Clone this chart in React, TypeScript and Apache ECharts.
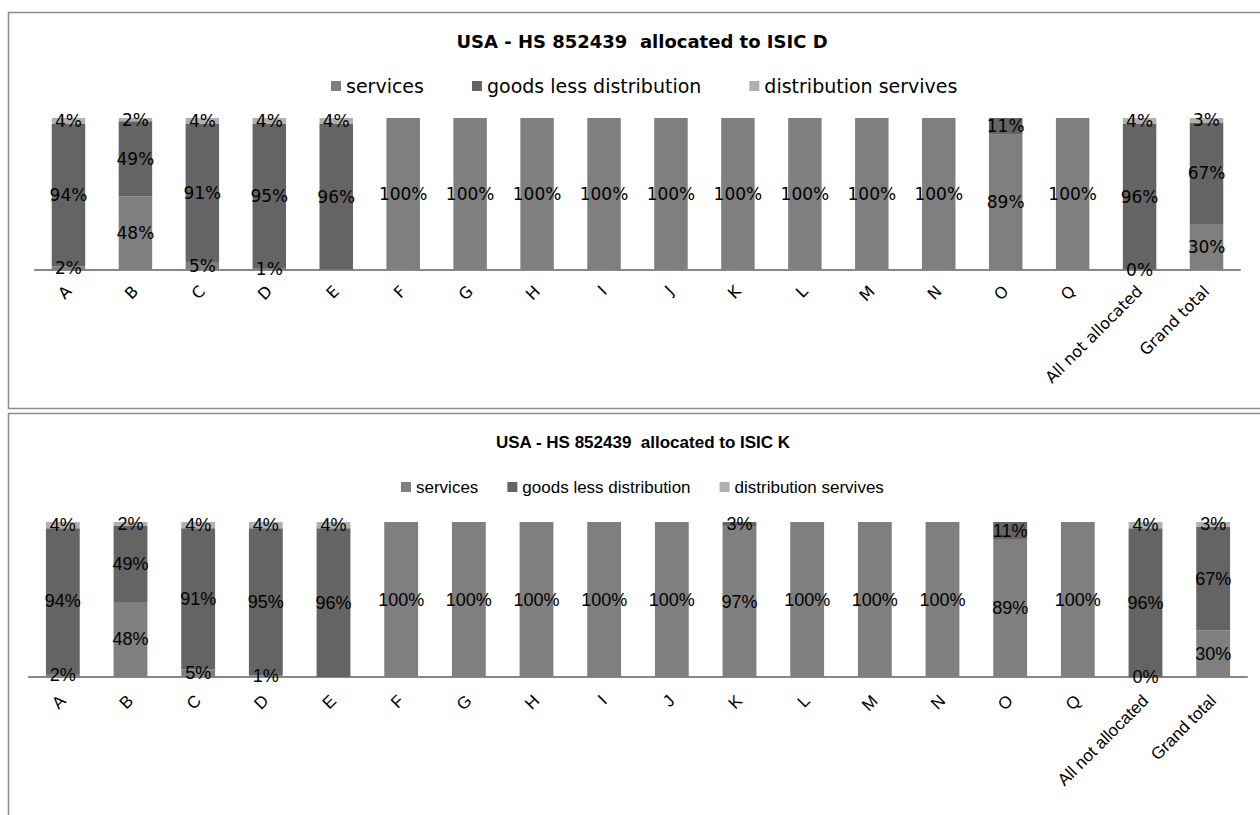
import React, { useEffect, useRef } from "react";
import * as echarts from "echarts";

// Industry categories (ISIC sections) shared by both panels
const categories = [
  "A", "B", "C", "D", "E", "F", "G", "H", "I", "J", "K", "L", "M", "N", "O", "Q",
  "All not allocated", "Grand total",
];

const seriesNames = ["services", "goods less distribution", "distribution servives"];

// Panel 1: allocated to ISIC D (shares in %)
const servicesD = [2, 48.4, 5, 1, null, 100, 100, 100, 100, 100, 100, 100, 100, 100, 89, 100, 0, 30];
const goodsD = [94, 49.4, 91, 95, 96, null, null, null, null, null, null, null, null, null, 11, null, 96, 67];
const distributionD = [4, 2.2, 4, 4, 4, null, null, null, null, null, null, null, null, null, null, null, 4, 3];

// Panel 2: allocated to ISIC K (shares in %)
const servicesK = [2, 48.4, 5, 1, null, 100, 100, 100, 100, 100, 97, 100, 100, 100, 89, 100, 0, 30];
const goodsK = [94, 49.4, 91, 95, 96, null, null, null, null, null, 3, null, null, null, 11, null, 96, 67];
const distributionK = [4, 2.2, 4, 4, 4, null, null, null, null, null, null, null, null, null, null, null, 4, 3];

const colors = ["#7f7f7f", "#646464", "#b0b0b0"];

const wideFont = "DejaVu Sans";
const narrowFont = "'Liberation Sans Narrow', 'Liberation Sans', sans-serif";

export default function App() {
  const ref = useRef<HTMLDivElement>(null);

  useEffect(() => {
    if (!ref.current) return;
    const chart = echarts.init(ref.current, undefined, { renderer: "svg" });

    const pct = (p: any) => (p.value == null ? "" : `${Math.round(p.value)}%`);

    const makeSeries = (
      data: (number | null)[][],
      axisIndex: number,
      font: string,
      size: number
    ) =>
      data.map((values, i) => ({
        name: seriesNames[i],
        type: "bar",
        stack: `panel${axisIndex}`,
        xAxisIndex: axisIndex,
        yAxisIndex: axisIndex,
        barWidth: "50%",
        itemStyle: { color: colors[i] },
        label: {
          show: true,
          position: "inside",
          formatter: pct,
          color: "#000",
          textBorderWidth: 0,
          fontFamily: font,
          fontSize: size,
        },
        data: values,
      }));

    chart.setOption({
      animation: false,
      backgroundColor: "#ffffff",
      color: colors,
      title: [
        {
          text: "USA - HS 852439  allocated to ISIC D",
          left: 637,
          textAlign: "center",
          top: 27,
          textStyle: { fontFamily: wideFont, fontWeight: "bold", fontSize: 18, color: "#000" },
        },
        {
          text: "USA - HS 852439  allocated to ISIC K",
          left: 638,
          textAlign: "center",
          top: 429,
          textStyle: { fontFamily: narrowFont, fontWeight: "bold", fontSize: 17, color: "#000" },
        },
      ],
      legend: [
        {
          left: 326,
          top: 71,
          itemWidth: 10,
          itemHeight: 10,
          itemGap: 48,
          icon: "rect",
          data: seriesNames,
          textStyle: { fontFamily: wideFont, fontSize: 19, color: "#000", lineHeight: 20 },
        },
        {
          left: 396,
          top: 473,
          itemWidth: 10,
          itemHeight: 10,
          itemGap: 29,
          icon: "rect",
          data: seriesNames,
          textStyle: { fontFamily: narrowFont, fontSize: 17, color: "#000", lineHeight: 18 },
        },
      ],
      grid: [
        { left: 35, right: 20, top: 118, height: 151.5 },
        { left: 29, right: 13, top: 522, height: 155 },
      ],
      xAxis: [
        {
          type: "category",
          gridIndex: 0,
          data: categories,
          axisTick: { show: false },
          axisLine: { lineStyle: { color: "#878787", width: 2 } },
          axisLabel: {
            rotate: 45,
            margin: 19,
            interval: 0,
            color: "#000",
            fontFamily: wideFont,
            fontSize: 16,
          },
        },
        {
          type: "category",
          gridIndex: 1,
          data: categories,
          axisTick: { show: false },
          axisLine: { lineStyle: { color: "#878787", width: 2 } },
          axisLabel: {
            rotate: 45,
            margin: 21,
            interval: 0,
            color: "#000",
            fontFamily: narrowFont,
            fontSize: 17,
          },
        },
      ],
      yAxis: [
        { type: "value", gridIndex: 0, min: 0, max: 100, show: false, splitLine: { show: false } },
        { type: "value", gridIndex: 1, min: 0, max: 100, show: false, splitLine: { show: false } },
      ],
      series: [
        ...makeSeries([servicesD, goodsD, distributionD], 0, wideFont, 17),
        ...makeSeries([servicesK, goodsK, distributionK], 1, narrowFont, 18),
      ],
      graphic: [
        {
          type: "rect",
          silent: true,
          shape: { x: 8.5, y: 12.5, width: 1260, height: 396 },
          style: { fill: "none", stroke: "#8c8c8c", lineWidth: 1.5 },
        },
        {
          type: "rect",
          silent: true,
          shape: { x: 8.5, y: 413.5, width: 1260, height: 420 },
          style: { fill: "none", stroke: "#8c8c8c", lineWidth: 1.5 },
        },
      ],
    });

    return () => chart.dispose();
  }, []);

  return (
    <div
      ref={ref}
      style={{ position: "fixed", left: 0, top: 0, width: 1260, height: 815, background: "#fff" }}
    />
  );
}
